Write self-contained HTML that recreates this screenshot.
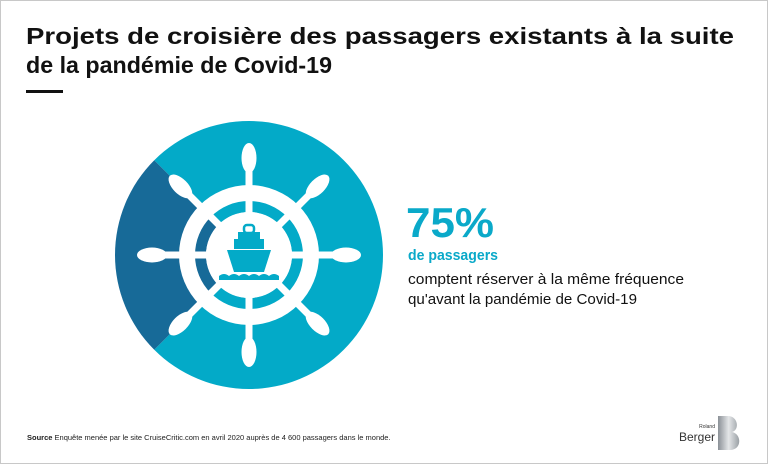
<!DOCTYPE html>
<html><head><meta charset="utf-8"><style>
html,body{margin:0;padding:0;background:#fff}
svg{display:block;font-family:"Liberation Sans",sans-serif}
</style></head><body>
<svg id="chart" width="768" height="464" viewBox="0 0 768 464">
<rect x="0.5" y="0.5" width="767" height="463" fill="#fff" stroke="#c8c8c8"/>
<g font-weight="bold" font-size="23.5" fill="#111">
<text x="26" y="44" textLength="708" lengthAdjust="spacingAndGlyphs">Projets de croisière des passagers existants à la suite</text>
<text x="26" y="73" textLength="306" lengthAdjust="spacingAndGlyphs">de la pandémie de Covid-19</text>
</g>
<rect x="26" y="90" width="37" height="3" fill="#111"/>
<g id="pie"></g>
<g>
<text x="406" y="237" font-size="42" font-weight="bold" fill="#0aa9c9" textLength="88" lengthAdjust="spacingAndGlyphs">75%</text>
<text x="408" y="260" font-size="15" font-weight="bold" fill="#0aa9c9" textLength="90" lengthAdjust="spacingAndGlyphs">de passagers</text>
<text x="408" y="284" font-size="15" fill="#111" textLength="276" lengthAdjust="spacingAndGlyphs">comptent réserver à la même fréquence</text>
<text x="408" y="304" font-size="15" fill="#111" textLength="229" lengthAdjust="spacingAndGlyphs">qu'avant la pandémie de Covid-19</text>
</g>
<text x="27" y="440" font-size="7.5" fill="#222"><tspan font-weight="bold">Source</tspan>  Enquête menée par le site CruiseCritic.com en avril 2020 auprès de 4 600 passagers dans le monde.</text>
<g>
<defs><linearGradient id="lg" x1="0" x2="1"><stop offset="0" stop-color="#8a9096"/><stop offset="0.5" stop-color="#e4e6e8"/><stop offset="1" stop-color="#9aa0a5"/></linearGradient></defs>
<text x="715" y="428" font-size="5" fill="#333" text-anchor="end">Roland</text>
<text x="715" y="441" font-size="12" fill="#333" text-anchor="end">Berger</text>
<path d="M718 416 h10 c10 0 12 14 4 16 c10 2 10 18 -2 18 h-12 z" fill="url(#lg)"/>
</g>
</svg>
<script>
const categories = ["Même fréquence", "Autre"];
const values = [75, 25];
const colors = ["#03aac8", "#176a98"];
const cx = 249, cy = 255, R = 134;
const NS = "http://www.w3.org/2000/svg";
const g = document.getElementById('pie');
function pt(r, a){ return [cx + r*Math.cos(a), cy + r*Math.sin(a)]; }
function arc(r0, r1, a0, a1){
  const large = (a1 - a0) > Math.PI ? 1 : 0;
  const p1 = pt(r1, a0), p2 = pt(r1, a1);
  if (r0 === 0) return `M${cx},${cy} L${p1} A${r1},${r1} 0 ${large} 1 ${p2} Z`;
  const p3 = pt(r0, a1), p4 = pt(r0, a0);
  return `M${p1} A${r1},${r1} 0 ${large} 1 ${p2} L${p3} A${r0},${r0} 0 ${large} 0 ${p4} Z`;
}
const total = values.reduce((a,b)=>a+b,0);
const start = -3*Math.PI/4;
let acc = start;
values.forEach((v,i)=>{
  const a0 = acc, a1 = acc + v/total*2*Math.PI; acc = a1;
  const p = document.createElementNS(NS,'path');
  p.setAttribute('d', arc(0, R, a0, a1));
  p.setAttribute('fill', colors[i]);
  
  
  g.appendChild(p);
});
const w = document.createElementNS(NS,'g');


g.appendChild(w);
function el(tag, attrs, parent){ const e=document.createElementNS(NS,tag); for(const k in attrs) e.setAttribute(k,attrs[k]); parent.appendChild(e); return e; }
el('circle',{cx,cy,r:70,fill:'#fff'},w);
acc = start;
values.forEach((v,i)=>{
  const a0 = acc, a1 = acc + v/total*2*Math.PI; acc = a1;
  el('path',{d:arc(43,54,a0,a1),fill:colors[i]},w);
});
el('circle',{cx,cy,r:43,fill:'#fff'},w);
for(let k=0;k<8;k++){
  const a = k*Math.PI/4;
  const [x2,y2] = pt(96,a);
  el('line',{x1:cx,y1:cy,x2,y2,stroke:'#fff','stroke-width':7},w);
  const [ex,ey] = pt(97,a);
  el('ellipse',{cx:ex,cy:ey,rx:15,ry:7.5,fill:'#fff',transform:`rotate(${k*45} ${ex} ${ey})`},w);
}
const s = document.createElementNS(NS,'g');


w.appendChild(s);
const c = colors[0];
el('rect',{x:cx-5,y:225,width:10,height:8,rx:3,fill:'none',stroke:c,'stroke-width':2.5},s);
el('rect',{x:cx-11,y:232,width:22,height:7,fill:c},s);
el('rect',{x:cx-15,y:239,width:30,height:10,fill:c},s);
el('path',{d:`M${cx-22},${cy-5} L${cx+22},${cy-5} L${cx+15},${cy+17} L${cx-15},${cy+17} Z`,fill:c},s);
el('path',{d:`M${cx-30},${cy+21} q5,-4 10,0 q5,-4 10,0 q5,-4 10,0 q5,-4 10,0 q5,-4 10,0 q5,-4 10,0 v4 h-60 z`,fill:c},s);
</script>
</body></html>
